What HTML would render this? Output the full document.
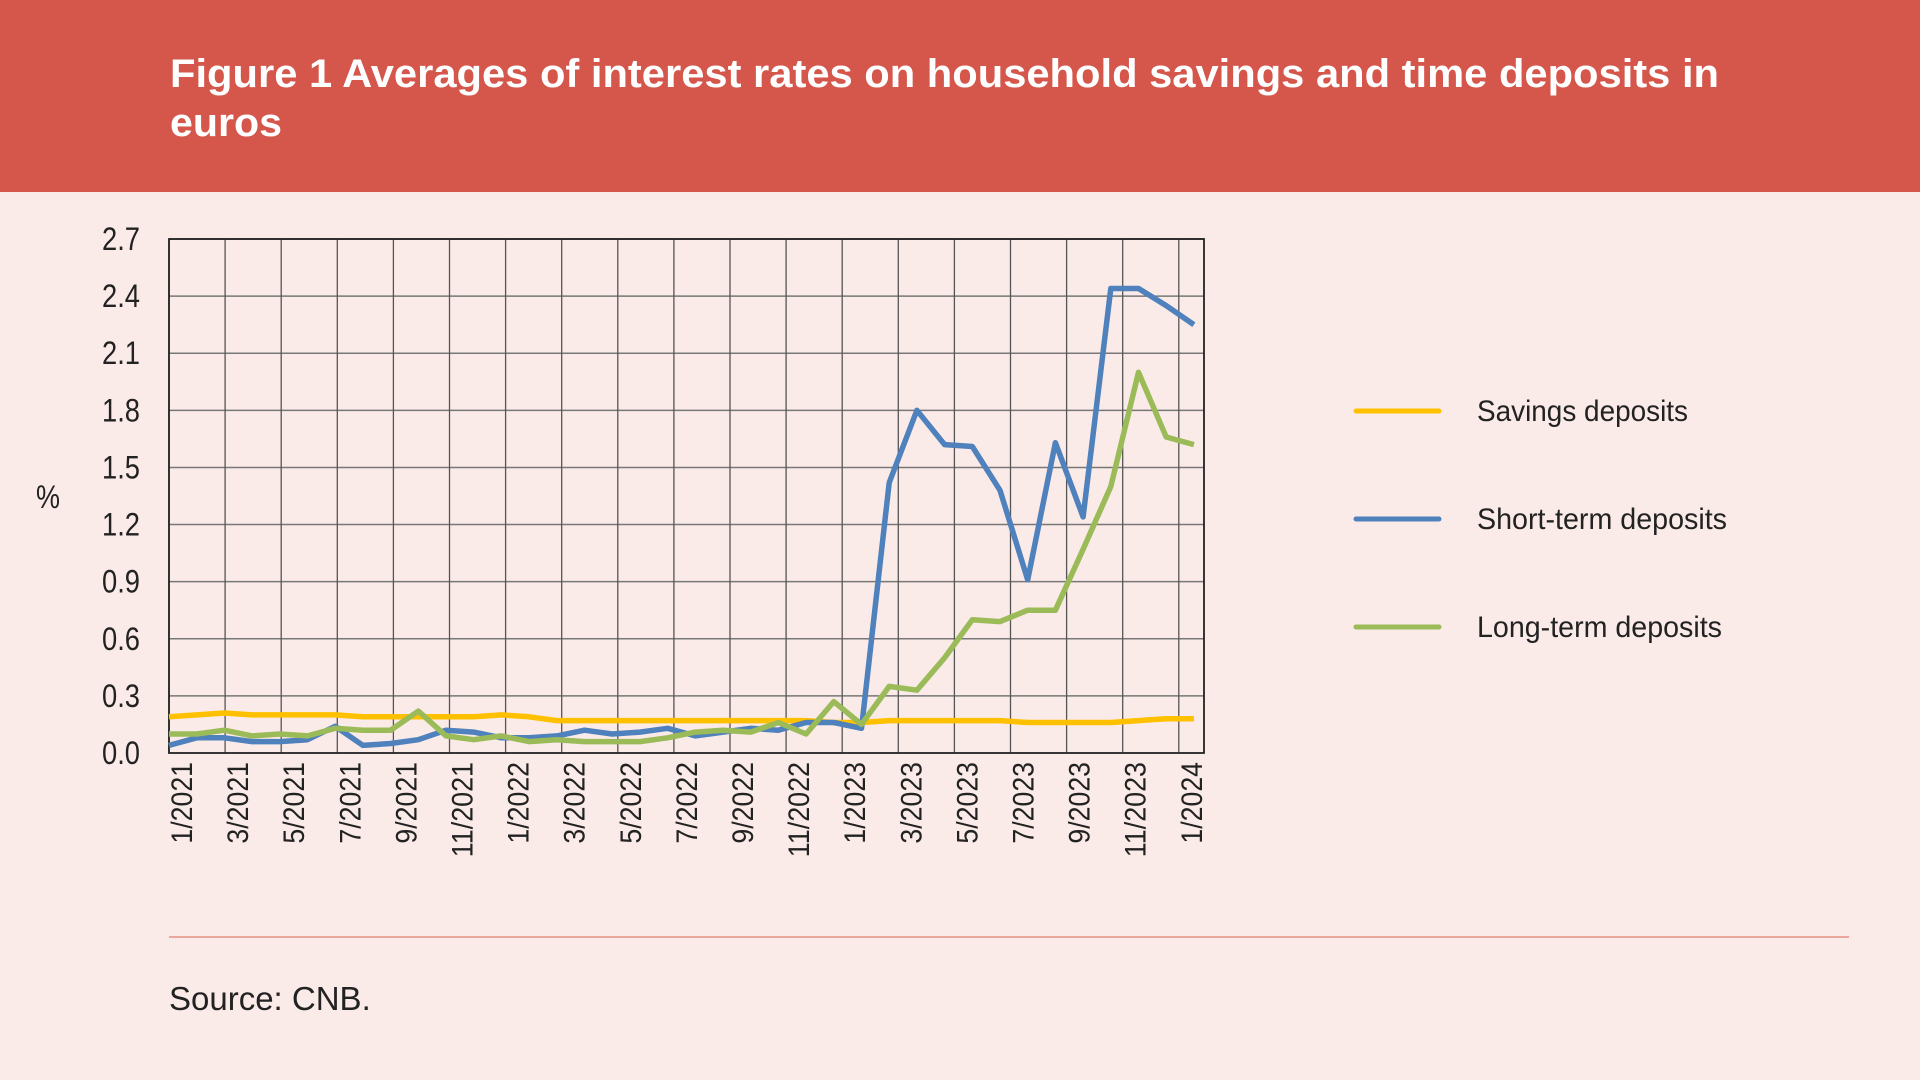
<!DOCTYPE html>
<html><head><meta charset="utf-8"><style>
html,body{margin:0;padding:0;background:#fbebe8;}
svg{display:block}
text{font-family:"Liberation Sans",sans-serif;}
</style></head><body>
<svg id="s" width="1920" height="1080" viewBox="0 0 1920 1080" xmlns="http://www.w3.org/2000/svg">
<rect x="0" y="0" width="1920" height="1080" fill="#fbebe8"/>
<rect x="0" y="0" width="1920" height="192" fill="#d5564a"/>
<text x="170" y="87" font-size="40" font-weight="bold" fill="#fff" textLength="1549" lengthAdjust="spacingAndGlyphs">Figure 1 Averages of interest rates on household savings and time deposits in</text>
<text x="170" y="136" font-size="40" font-weight="bold" fill="#fff" textLength="112" lengthAdjust="spacingAndGlyphs">euros</text>
<g id="grid"></g>
<g id="lines" fill="none" stroke-width="5.5" stroke-linejoin="round"></g>
<text x="36" y="508" font-size="32" fill="#222" textLength="24" lengthAdjust="spacingAndGlyphs">%</text>
<line x1="1356" y1="411" x2="1439" y2="411" stroke="#ffc000" stroke-width="5" stroke-linecap="round"/>
<line x1="1356" y1="519" x2="1439" y2="519" stroke="#4f81bd" stroke-width="5" stroke-linecap="round"/>
<line x1="1356" y1="627" x2="1439" y2="627" stroke="#9bbb59" stroke-width="5" stroke-linecap="round"/>
<text x="1477" y="421" font-size="30" fill="#222" textLength="211" lengthAdjust="spacingAndGlyphs">Savings deposits</text>
<text x="1477" y="529" font-size="30" fill="#222" textLength="250" lengthAdjust="spacingAndGlyphs">Short-term deposits</text>
<text x="1477" y="637" font-size="30" fill="#222" textLength="245" lengthAdjust="spacingAndGlyphs">Long-term deposits</text>
<line x1="169" y1="937" x2="1849" y2="937" stroke="#e08070" stroke-width="1.2"/>
<text x="169" y="1010" font-size="33" fill="#222">Source: CNB.</text>
</svg>
<script>
var NS="http://www.w3.org/2000/svg";
var L=169,R=1204,T=239,B=753;
function Y(v){return B-(v/2.7)*(B-T);}
function X(i){return L+i*27.7;}
var g=document.getElementById('grid');
function el(p,tag,a,txt){var e=document.createElementNS(NS,tag);for(var k in a)e.setAttribute(k,a[k]);if(txt)e.textContent=txt;p.appendChild(e);return e;}
for(var k=1;k<=9;k++){var y=Y(k*0.3);el(g,'line',{x1:L,y1:y,x2:R,y2:y,stroke:'#777','stroke-width':1.5});}
var labs=['1/2021','3/2021','5/2021','7/2021','9/2021','11/2021','1/2022','3/2022','5/2022','7/2022','9/2022','11/2022','1/2023','3/2023','5/2023','7/2023','9/2023','11/2023','1/2024'];
for(var k=0;k<19;k++){var x=L+k*56.1;el(g,'line',{x1:x,y1:T,x2:x,y2:B,stroke:'#555','stroke-width':1.3});
 var tx=x+23,ty=762;var t=el(g,'text',{x:0,y:0,'font-size':30,fill:'#222','text-anchor':'end',transform:'translate('+tx+','+ty+') rotate(-90)'},labs[k]);
 t.setAttribute('textLength',labs[k].length*13.6);t.setAttribute('lengthAdjust','spacingAndGlyphs');}
el(g,'rect',{x:L,y:T,width:R-L,height:B-T,fill:'none',stroke:'#222','stroke-width':1.8});
for(var k=0;k<=9;k++){var v=(k*0.3).toFixed(1);var t=el(g,'text',{x:140,y:Y(k*0.3)+11,'font-size':32,fill:'#222','text-anchor':'end',textLength:38,lengthAdjust:'spacingAndGlyphs'},v);}
var yel=[0.19,0.20,0.21,0.20,0.20,0.20,0.20,0.19,0.19,0.19,0.19,0.19,0.20,0.19,0.17,0.17,0.17,0.17,0.17,0.17,0.17,0.17,0.17,0.17,0.16,0.16,0.17,0.17,0.17,0.17,0.17,0.16,0.16,0.16,0.16,0.17,0.18,0.18];
var blu=[0.04,0.08,0.08,0.06,0.06,0.07,0.14,0.04,0.05,0.07,0.12,0.11,0.08,0.08,0.09,0.12,0.10,0.11,0.13,0.09,0.11,0.13,0.12,0.16,0.16,0.13,1.42,1.80,1.62,1.61,1.38,0.91,1.63,1.24,2.44,2.44,2.35,2.25];
var grn=[0.10,0.10,0.12,0.09,0.10,0.09,0.13,0.12,0.12,0.22,0.09,0.07,0.09,0.06,0.07,0.06,0.06,0.06,0.08,0.11,0.12,0.11,0.16,0.10,0.27,0.15,0.35,0.33,0.50,0.70,0.69,0.75,0.75,1.07,1.40,2.00,1.66,1.62];
var lg=document.getElementById('lines');
function pl(d,c){el(lg,'polyline',{points:d.map(function(v,i){return X(i).toFixed(1)+','+Y(v).toFixed(1);}).join(' '),stroke:c});}
pl(yel,'#ffc000');pl(blu,'#4f81bd');pl(grn,'#9bbb59');
</script>
</body></html>
